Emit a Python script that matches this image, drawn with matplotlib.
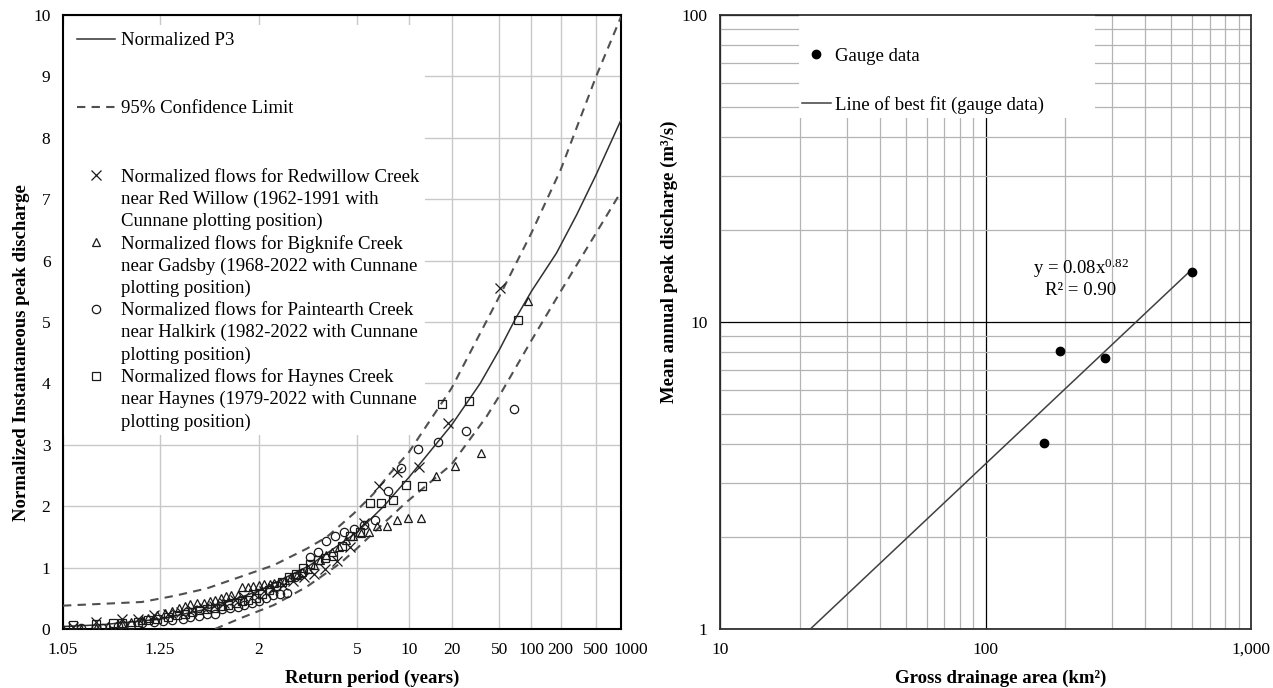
import math
from statistics import NormalDist

import numpy as np
import matplotlib
matplotlib.use("Agg")
import matplotlib.pyplot as plt
from matplotlib.lines import Line2D
from matplotlib.patches import Rectangle
from matplotlib.ticker import FixedLocator, NullLocator, FuncFormatter
from matplotlib.transforms import ScaledTranslation

plt.rcParams['font.family'] = ['Liberation Serif', 'DejaVu Serif']
plt.rcParams['mathtext.fontset'] = 'custom'
plt.rcParams['mathtext.rm'] = 'Liberation Serif'
plt.rcParams['mathtext.it'] = 'Liberation Serif:italic'
plt.rcParams['mathtext.bf'] = 'Liberation Serif:bold'

# ---- left chart: frequency curve (return period, normalized discharge) ----
p3_T = [1.05, 1.1, 1.25, 1.5, 2, 3, 5, 7, 10, 20, 34, 50, 70, 100, 180, 300, 500, 1000]
p3_Q = [0.04, 0.07, 0.16, 0.33, 0.62, 1.03, 1.58, 2.0, 2.47, 3.32, 4.0, 4.55, 5.05, 5.5,
        6.12, 6.75, 7.4, 8.29]

upper_T = [1.05, 1.19, 1.31, 1.49, 1.78, 2.23, 2.94, 3.57, 4.79, 6.1, 7.6, 10, 20, 50,
           100, 200, 500, 1000]
upper_Q = [0.38, 0.44, 0.54, 0.66, 0.85, 1.04, 1.31, 1.50, 1.88, 2.2, 2.53, 2.88, 3.92,
           5.42, 6.45, 7.48, 9.0, 9.97]

lower_T = [1.55, 1.78, 2.23, 2.94, 4.11, 4.97, 6.67, 9.68, 20, 38.5, 50, 100, 200, 500, 1000]
lower_Q = [0.0, 0.175, 0.39, 0.69, 1.07, 1.31, 1.67, 2.07, 2.68, 3.46, 3.8, 4.7, 5.5,
           6.45, 7.12]

redwillow_T = [50.33, 18.88, 11.62, 8.39, 6.57, 5.39, 4.58, 3.97, 3.51, 3.15, 2.85, 2.60,
               2.40, 2.22, 2.07, 1.94, 1.82, 1.72, 1.62, 1.54, 1.47, 1.40, 1.34, 1.28,
               1.23, 1.18, 1.14, 1.09, 1.06]
redwillow_Q = [5.55, 3.35, 2.64, 2.55, 2.33, 1.73, 1.33, 1.10, 0.98, 0.90, 0.84, 0.78,
               0.72, 0.67, 0.62, 0.57, 0.52, 0.47, 0.42, 0.38, 0.34, 0.31, 0.28, 0.25,
               0.23, 0.17, 0.17, 0.11, 0.03]

bigknife_T = [92.0, 34.5, 21.23, 15.33, 12.0, 9.86, 8.36, 7.26, 6.42, 5.75, 5.21, 4.76,
              4.38, 4.06, 3.78, 3.54, 3.33, 3.14, 2.97, 2.82, 2.68, 2.56, 2.44, 2.34,
              2.24, 2.16, 2.08, 2.00, 1.93, 1.87, 1.80, 1.75, 1.69, 1.64, 1.60, 1.55,
              1.51, 1.47, 1.43, 1.39, 1.36, 1.33, 1.30, 1.27, 1.24, 1.21, 1.19, 1.16,
              1.14, 1.11, 1.09, 1.07, 1.05]
bigknife_Q = [5.35, 2.86, 2.65, 2.50, 1.81, 1.80, 1.78, 1.68, 1.68, 1.58, 1.56, 1.52,
              1.45, 1.33, 1.26, 1.20, 1.12, 1.05, 0.98, 0.93, 0.88, 0.84, 0.80, 0.77,
              0.75, 0.73, 0.73, 0.72, 0.70, 0.69, 0.69, 0.56, 0.55, 0.53, 0.50, 0.48,
              0.46, 0.43, 0.42, 0.40, 0.37, 0.34, 0.30, 0.26, 0.22, 0.18, 0.15, 0.12,
              0.08, 0.05, 0.02, 0.0, 0.0]

paintearth_T = [68.67, 25.75, 15.85, 11.44, 8.96, 7.36, 6.24, 5.42, 4.79, 4.29, 3.89,
                3.55, 3.27, 3.03, 2.82, 2.64, 2.48, 2.34, 2.22, 2.10, 2.00, 1.91, 1.82,
                1.75, 1.68, 1.61, 1.55, 1.49, 1.44, 1.39, 1.35, 1.30, 1.26, 1.23, 1.19,
                1.16, 1.13, 1.10, 1.07]
paintearth_Q = [3.58, 3.22, 3.04, 2.93, 2.62, 2.25, 1.77, 1.70, 1.63, 1.58, 1.52, 1.43,
                1.26, 1.17, 0.91, 0.85, 0.58, 0.57, 0.55, 0.50, 0.46, 0.42, 0.39, 0.36,
                0.34, 0.32, 0.25, 0.24, 0.21, 0.20, 0.17, 0.15, 0.13, 0.11, 0.09, 0.07,
                0.05, 0.02, 0.01]

haynes_T = [73.67, 27.63, 17.00, 12.28, 9.61, 7.89, 6.70, 5.82, 5.14, 4.60, 4.17, 3.81,
            3.51, 3.25, 3.03, 2.83, 2.66, 2.51, 2.38, 2.26, 2.15, 2.05, 1.96, 1.87, 1.80,
            1.73, 1.66, 1.60, 1.55, 1.49, 1.44, 1.40, 1.36, 1.32, 1.28, 1.24, 1.21, 1.18,
            1.14, 1.12, 1.09, 1.06]
haynes_Q = [5.04, 3.72, 3.66, 2.33, 2.34, 2.10, 2.05, 2.05, 1.58, 1.52, 1.35, 1.19, 1.16,
            1.12, 1.06, 0.99, 0.90, 0.84, 0.76, 0.70, 0.63, 0.57, 0.51, 0.48, 0.45, 0.42,
            0.39, 0.37, 0.35, 0.33, 0.31, 0.28, 0.25, 0.22, 0.19, 0.17, 0.14, 0.12, 0.10,
            0.09, 0.08, 0.07]

T_ticks = [1.05, 1.25, 2, 5, 10, 20, 50, 100, 200, 500, 1000]
T_labels = ['1.05', '1.25', '2', '5', '10', '20', '50', '100', '200', '500', '1000']

# ---- right chart: regional regression ----
area = [166, 191, 282, 598]          # km2
mean_peak = [4.03, 8.06, 7.65, 14.6]  # m3/s
fit_x = [20, 598]


# normal probability scale for return period
_nd = NormalDist()
_ppf = np.vectorize(_nd.inv_cdf, otypes=[float])
_erf = np.vectorize(math.erf, otypes=[float])


def t_to_z(t):
    t = np.asarray(t, dtype=float)
    p = 1.0 - 1.0 / np.clip(t, 1.000001, 1e9)
    return _ppf(np.clip(p, 1e-9, 1 - 1e-9))


def z_to_t(z):
    z = np.asarray(z, dtype=float)
    cdf = 0.5 * (1.0 + _erf(np.clip(z, -8, 8) / math.sqrt(2)))
    return 1.0 / np.clip(1.0 - cdf, 1e-12, None)


fig = plt.figure(figsize=(12.73, 6.88), dpi=100)
ax = fig.add_axes([63 / 1273, 1 - 629 / 688, 558 / 1273, 614 / 688])
ax2 = fig.add_axes([720 / 1273, 1 - 629 / 688, 531 / 1273, 614 / 688])

# ---------------- left ----------------
ax.set_xscale('function', functions=(t_to_z, z_to_t))
ax.set_xlim(1.05, 1000)
ax.set_ylim(0, 10)
ax.xaxis.set_major_locator(FixedLocator(T_ticks))
ax.xaxis.set_minor_locator(NullLocator())
ax.set_xticks(T_ticks, T_labels)
ax.set_yticks(range(0, 11))
ax.set_axisbelow(True)
ax.grid(color='#c8c8c8', lw=1.0)
ax.tick_params(length=0, labelsize=12.5, pad=9)
for s in ax.spines.values():
    s.set_linewidth(1.5)
    s.set_color('black')

ax.add_patch(Rectangle((0, 0.316), 0.649, 0.668, transform=ax.transAxes,
                       fc='white', ec='none', zorder=1))

l_p3, = ax.plot(p3_T, p3_Q, color='#303030', lw=1.1, zorder=3)
l_up, = ax.plot(upper_T, upper_Q, color='#505050', lw=1.5, ls=(0, (4, 3)), zorder=3)
ax.plot(lower_T, lower_Q, color='#505050', lw=1.5, ls=(0, (4, 3)), zorder=3)

mk = dict(ls='none', mfc='none', mec='#1a1a1a', mew=0.9, zorder=4)
h_rw, = ax.plot(redwillow_T, redwillow_Q, marker='x', ms=6.5, **mk)
h_bk, = ax.plot(bigknife_T, bigknife_Q, marker='^', ms=6, **mk)
h_pe, = ax.plot(paintearth_T, paintearth_Q, marker='o', ms=6, **mk)
h_hy, = ax.plot(haynes_T, haynes_Q, marker='s', ms=6, **mk)

legA = ax.legend([l_p3, l_up], ['Normalized P3', '95% Confidence Limit'],
                 loc='upper left', bbox_to_anchor=(0.025, 0.972), frameon=False,
                 fontsize=13.5, handlelength=2.05, handletextpad=0.32,
                 labelspacing=2.72, borderpad=0, borderaxespad=0)
ax.add_artist(legA)

blank = Line2D([], [], ls='none')
series_lines = [
    (h_rw, ['Normalized flows for Redwillow Creek', 'near Red Willow (1962-1991 with',
            'Cunnane plotting position)']),
    (h_bk, ['Normalized flows for Bigknife Creek', 'near Gadsby (1968-2022 with Cunnane',
            'plotting position)']),
    (h_pe, ['Normalized flows for Paintearth Creek', 'near Halkirk (1982-2022 with Cunnane',
            'plotting position)']),
    (h_hy, ['Normalized flows for Haynes Creek', 'near Haynes (1979-2022 with Cunnane',
            'plotting position)']),
]
hs, ls_ = [], []
for h, lines in series_lines:
    for i, txt in enumerate(lines):
        hs.append(h if i == 0 else blank)
        ls_.append(txt)
ax.legend(hs, ls_, loc='upper left', bbox_to_anchor=(0.025, 0.750), frameon=False,
          fontsize=13.5, handlelength=2.05, handletextpad=0.32, labelspacing=0.26,
          borderpad=0, borderaxespad=0)

ax.set_xlabel('Return period (years)', fontsize=13.5, fontweight='bold')
ax.set_ylabel('Normalized Instantaneous peak discharge', fontsize=13.5, fontweight='bold')
ax.xaxis.set_label_coords(0.554, -0.067)
ax.yaxis.set_label_coords(-0.059, 0.451)

# ---------------- right ----------------
ax2.set_xscale('log')
ax2.set_yscale('log')
ax2.set_xlim(10, 1000)
ax2.set_ylim(1, 100)
ax2.set_axisbelow(True)
ax2.grid(which='minor', color='#b4b4b4', lw=0.9)
ax2.grid(which='major', color='black', lw=0.9)
fmt = FuncFormatter(lambda v, p: f'{v:,.0f}')
ax2.xaxis.set_major_formatter(fmt)
ax2.yaxis.set_major_formatter(fmt)
ax2.xaxis.set_minor_formatter(FuncFormatter(lambda v, p: ''))
ax2.yaxis.set_minor_formatter(FuncFormatter(lambda v, p: ''))
ax2.tick_params(which='both', length=0, labelsize=12.5, pad=9)
for s in ax2.spines.values():
    s.set_linewidth(1.3)
    s.set_color('#303030')

ax2.add_patch(Rectangle((0.149, 0.832), 0.557, 0.168, transform=ax2.transAxes,
                        fc='white', ec='none', zorder=1))

b, a_log = np.polyfit(np.log10(area), np.log10(mean_peak), 1)
fx = np.array(fit_x, dtype=float)
l_fit, = ax2.plot(fx, 10 ** a_log * fx ** b, color='#404040', lw=1.1, zorder=3)
h_pts, = ax2.plot(area, mean_peak, 'o', color='black', ms=6, ls='none', zorder=4)

ax2.legend([h_pts, l_fit], ['Gauge data', 'Line of best fit (gauge data)'],
           loc='upper left', bbox_to_anchor=(0.154, 0.947), frameon=False,
           fontsize=13.5, handlelength=1.57, handletextpad=0.2, labelspacing=1.68,
           borderpad=0, borderaxespad=0)

ax2.text(228, 15.0, 'y = 0.08x$^{0.82}$', ha='center', va='center', fontsize=13.5)
ax2.text(228, 12.7, 'R² = 0.90', ha='center', va='center', fontsize=13.5)

ax2.set_xlabel('Gross drainage area (km²)', fontsize=13.5, fontweight='bold')
ax2.set_ylabel('Mean annual peak discharge (m³/s)', fontsize=13.5, fontweight='bold')
ax2.xaxis.set_label_coords(0.529, -0.067)
ax2.yaxis.set_label_coords(-0.079, 0.598)

# the last return-period label sits a little right of its tick, as in the original
fig.canvas.draw()
last = ax.get_xticklabels()[-1]
last.set_transform(last.get_transform() + ScaledTranslation(7 / 72, 0, fig.dpi_scale_trans))

fig.savefig('out.png', dpi=100)
